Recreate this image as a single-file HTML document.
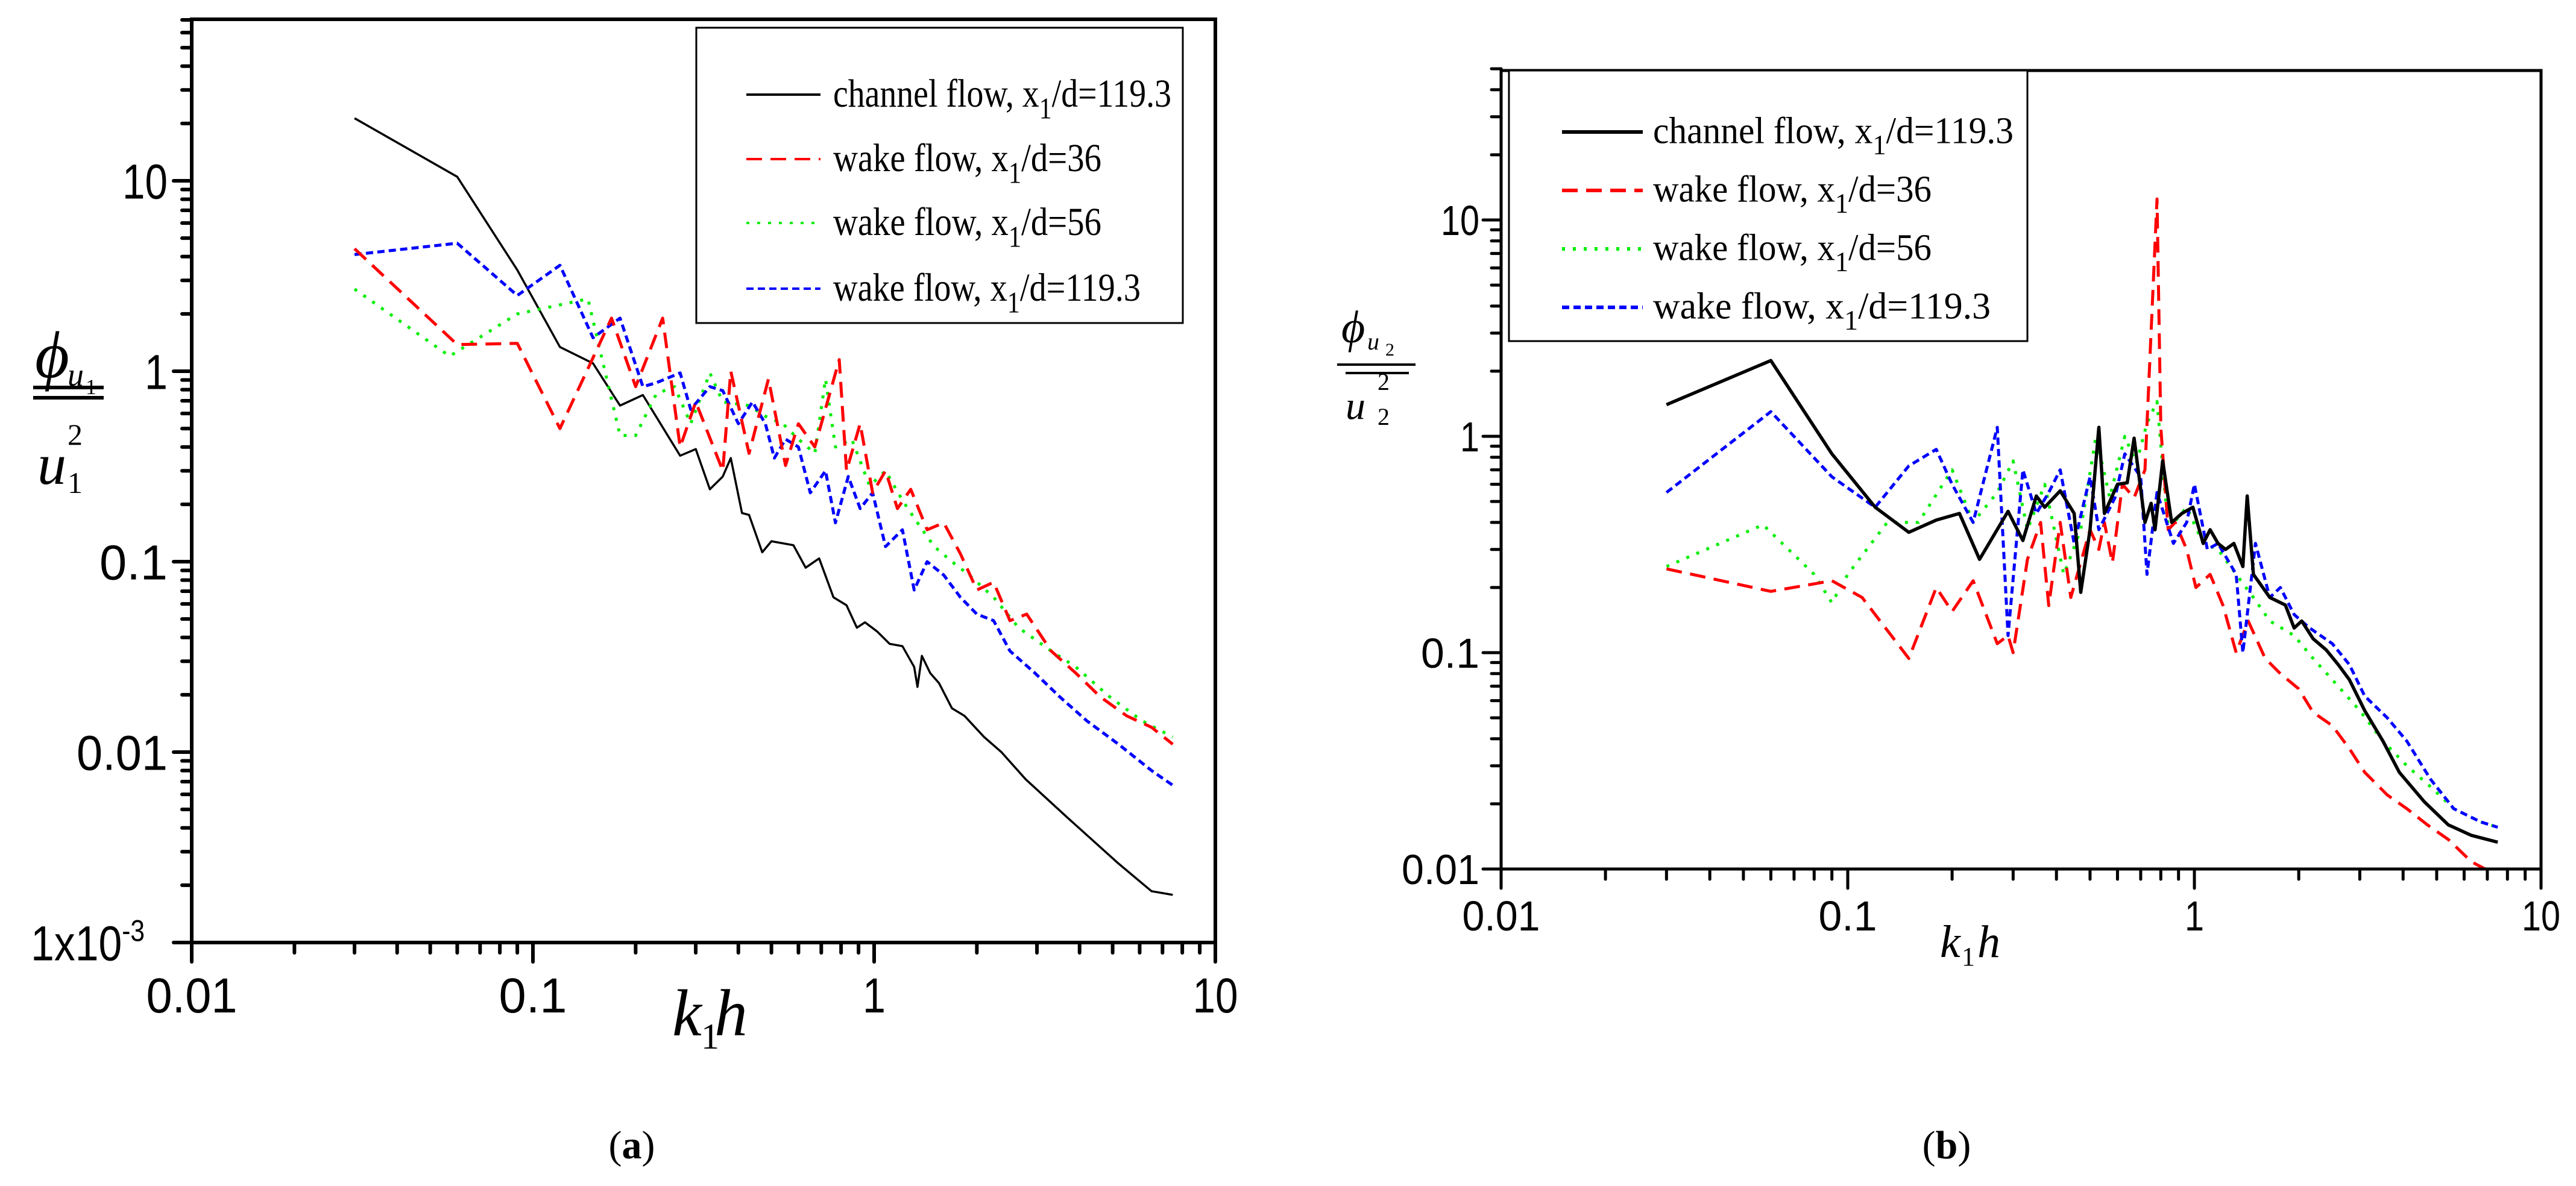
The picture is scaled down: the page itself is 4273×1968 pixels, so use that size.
<!DOCTYPE html>
<html><head><meta charset="utf-8">
<style>
html,body{margin:0;padding:0;background:#fff;}
svg{display:block;}
text{font-family:"Liberation Sans",sans-serif;}
.serif{font-family:"Liberation Serif",serif;}
</style></head>
<body>
<svg id="fig" xmlns="http://www.w3.org/2000/svg" width="4273" height="1968" viewBox="0 0 4273 1968">
  <rect x="0" y="0" width="4273" height="1968" fill="#fff"/>
  <g id="pa"></g>
  <g id="pb"></g>

  <!-- Panel a labels -->
  <g class="serif">
    <text x="58" y="626" font-size="110" font-style="italic" class="serif">ϕ</text>
    <text x="112" y="640" font-size="54" font-style="italic" class="serif">u</text>
    <text x="142" y="654" font-size="36" class="serif">1</text>
    <rect x="55" y="640" width="117" height="6" fill="#000"/>
    <rect x="55" y="657" width="117" height="6" fill="#000"/>
    <text x="62" y="803" font-size="96" font-style="italic" class="serif">u</text>
    <text x="112" y="818" font-size="50" class="serif">1</text>
    <text x="112" y="738" font-size="50" class="serif">2</text>
  </g>
  <g>
    <text x="1115" y="1718" font-size="110" font-style="italic" class="serif">k</text>
    <text x="1163" y="1740" font-size="60" class="serif">1</text>
    <text x="1185" y="1718" font-size="110" font-style="italic" class="serif">h</text>
  </g>
  <text x="1048" y="1922" font-size="66" text-anchor="middle" class="serif">(<tspan font-weight="bold">a</tspan>)</text>

  <!-- Panel b labels -->
  <g>
    <text x="2225" y="568" font-size="76" font-style="italic" class="serif">ϕ</text>
    <text x="2268" y="580" font-size="40" font-style="italic" class="serif">u</text>
    <text x="2298" y="590" font-size="30" class="serif">2</text>
    <rect x="2218" y="603" width="130" height="4" fill="#000"/>
    <rect x="2232" y="617" width="105" height="4" fill="#000"/>
    <text x="2232" y="695" font-size="66" font-style="italic" class="serif">u</text>
    <text x="2285" y="705" font-size="40" class="serif">2</text>
    <text x="2285" y="647" font-size="40" class="serif">2</text>
  </g>
  <g>
    <text x="3218" y="1588" font-size="76" font-style="italic" class="serif">k</text>
    <text x="3254" y="1602" font-size="44" class="serif">1</text>
    <text x="3280" y="1588" font-size="76" font-style="italic" class="serif">h</text>
  </g>
  <text x="3229" y="1922" font-size="66" text-anchor="middle" class="serif">(<tspan font-weight="bold">b</tspan>)</text>
</svg>
<script>
// ---------- Panel (a) data ----------
const aBlackX = [0.03,0.06,0.09,0.12,0.15,0.18,0.21,0.27,0.30,0.33,0.36,0.38,0.41,0.43,0.47,0.50,0.58,0.63,0.69,0.76,0.83,0.89,0.94,1.02,1.11,1.21,1.31,1.34,1.38,1.46,1.55,1.69,1.84,2.1,2.36,2.78,3.65,5.2,6.5,7.5];
const aBlackY = [21.3,10.5,3.4,1.34,1.1,0.66,0.75,0.36,0.39,0.24,0.28,0.35,0.18,0.176,0.112,0.128,0.122,0.093,0.104,0.065,0.059,0.045,0.048,0.043,0.037,0.036,0.028,0.022,0.032,0.026,0.023,0.017,0.0155,0.012,0.0100,0.0072,0.0046,0.0026,0.00186,0.00178];
const aRedX = [0.03,0.06,0.09,0.12,0.17,0.2,0.24,0.27,0.30,0.36,0.38,0.43,0.49,0.55,0.6,0.67,0.79,0.83,0.91,0.99,1.08,1.17,1.28,1.43,1.6,1.79,2.0,2.24,2.5,2.8,3.3,3.9,4.6,5.5,6.5,7.5];
const aRedY = [4.4,1.38,1.4,0.50,1.9,0.83,1.9,0.40,0.69,0.30,1.0,0.37,0.91,0.32,0.53,0.40,1.15,0.30,0.53,0.23,0.30,0.19,0.24,0.147,0.16,0.11,0.071,0.078,0.049,0.053,0.034,0.026,0.0195,0.0155,0.0135,0.011];
const aGreenX = [0.03,0.057,0.09,0.145,0.18,0.2,0.23,0.26,0.29,0.33,0.36,0.43,0.48,0.54,0.6,0.67,0.72,0.77,0.86,0.97,1.08,1.21,1.34,1.5,1.69,1.9,2.24,2.65,3.3,3.9,4.9,6.1,7.5];
const aGreenY = [2.7,1.2,2.0,2.4,0.46,0.46,0.76,0.83,0.53,0.98,0.69,0.66,0.58,0.53,0.44,0.37,0.91,0.40,0.44,0.25,0.30,0.21,0.16,0.12,0.10,0.085,0.065,0.045,0.034,0.028,0.0195,0.0146,0.012];
const aBlueX = [0.03,0.06,0.09,0.12,0.15,0.18,0.21,0.23,0.27,0.29,0.33,0.36,0.4,0.44,0.48,0.51,0.55,0.6,0.65,0.72,0.77,0.84,0.91,0.99,1.08,1.21,1.31,1.43,1.6,1.79,2.0,2.24,2.5,2.96,3.5,4.2,5.2,6.5,7.5];
const aBlueY = [4.1,4.7,2.5,3.6,1.5,1.9,0.83,0.87,0.98,0.63,0.83,0.79,0.53,0.69,0.53,0.35,0.44,0.40,0.23,0.30,0.16,0.28,0.19,0.23,0.12,0.147,0.071,0.10,0.085,0.065,0.053,0.049,0.034,0.026,0.0195,0.0146,0.011,0.008,0.0067];
const aYTicks = [10,1,0.1,0.01,0.001];
const aYTickLabels = ["10","1","0.1","0.01","1x10"];
const xTicks = [0.01,0.1,1,10];
const xTickLabels = ["0.01","0.1","1","10"];

// ---------- Panel (b) data ----------
const bBlackX = [0.03,0.06,0.09,0.12,0.15,0.18,0.21,0.24,0.29,0.32,0.35,0.37,0.41,0.45,0.47,0.5,0.53,0.55,0.6,0.64,0.67,0.72,0.75,0.77,0.81,0.86,0.92,0.99,1.06,1.11,1.17,1.23,1.3,1.38,1.42,1.48,1.65,1.83,1.94,2.04,2.2,2.4,2.6,2.8,3.1,3.5,3.9,4.6,5.4,6.3,7.5];
const bBlackY = [1.4,2.24,0.83,0.47,0.36,0.41,0.44,0.27,0.45,0.33,0.53,0.47,0.56,0.44,0.19,0.37,1.1,0.44,0.6,0.61,0.98,0.40,0.49,0.37,0.77,0.40,0.44,0.47,0.32,0.37,0.32,0.30,0.32,0.25,0.53,0.23,0.18,0.166,0.13,0.14,0.116,0.103,0.088,0.075,0.054,0.039,0.028,0.0205,0.016,0.0143,0.0133];
const bRedX = [0.03,0.06,0.09,0.11,0.15,0.18,0.2,0.23,0.27,0.29,0.3,0.33,0.36,0.38,0.41,0.44,0.5,0.53,0.55,0.58,0.62,0.67,0.72,0.78,0.8,0.84,0.88,0.95,1.01,1.11,1.21,1.32,1.43,1.6,1.77,2.0,2.2,2.5,2.8,3.1,3.6,4.1,4.7,5.4,6.3,6.9];
const bRedY = [0.244,0.192,0.215,0.18,0.094,0.2,0.155,0.215,0.11,0.12,0.1,0.27,0.4,0.165,0.4,0.18,0.37,0.3,0.4,0.26,0.6,0.52,0.7,12.5,1.1,0.37,0.4,0.3,0.2,0.23,0.165,0.1,0.14,0.094,0.08,0.068,0.053,0.046,0.036,0.028,0.022,0.019,0.016,0.0137,0.0108,0.01];
const bGreenX = [0.03,0.057,0.08,0.09,0.1,0.13,0.16,0.2,0.23,0.27,0.3,0.33,0.37,0.42,0.47,0.52,0.57,0.63,0.68,0.73,0.78,0.84,0.95,1.06,1.17,1.32,1.48,1.65,1.94,2.2,2.5,3.0,3.5,4.1,4.8,5.6,6.7,7.5];
const bGreenY = [0.25,0.39,0.23,0.17,0.23,0.4,0.4,0.7,0.4,0.55,0.77,0.37,0.6,0.23,0.37,1.0,0.52,1.0,0.75,1.15,1.45,0.37,0.47,0.32,0.3,0.23,0.18,0.14,0.12,0.094,0.075,0.054,0.039,0.03,0.024,0.019,0.0165,0.0156];
const bBlueX = [0.03,0.06,0.09,0.12,0.15,0.18,0.2,0.23,0.27,0.29,0.32,0.35,0.38,0.41,0.45,0.5,0.53,0.59,0.63,0.7,0.73,0.78,0.87,0.95,1.0,1.09,1.17,1.32,1.38,1.5,1.65,1.77,1.94,2.15,2.5,2.8,3.1,3.6,4.1,4.8,5.6,6.7,7.5];
const bBlueY = [0.55,1.3,0.65,0.47,0.73,0.87,0.6,0.4,1.1,0.12,0.7,0.44,0.55,0.7,0.32,0.65,0.37,0.52,0.83,0.65,0.23,0.55,0.32,0.4,0.6,0.3,0.32,0.23,0.1,0.32,0.18,0.2,0.15,0.13,0.11,0.088,0.063,0.05,0.039,0.026,0.019,0.0165,0.0156];
const bYTicks = [10,1,0.1,0.01];
const bYTickLabels = ["10","1","0.1","0.01"];
const legendLabels = ["channel flow, x","wake flow, x","wake flow, x","wake flow, x"];
const legendSuffix = ["/d=119.3","/d=36","/d=56","/d=119.3"];

const NS = "http://www.w3.org/2000/svg";
function mk(tag, attrs, parent){
  const e = document.createElementNS(NS, tag);
  for (const k in attrs) e.setAttribute(k, attrs[k]);
  parent.appendChild(e);
  return e;
}
function makeAxes(cfg){
  const L = Math.log10;
  cfg.X = v => cfg.x0 + cfg.dx * (L(v) + 2);
  cfg.Y = v => cfg.y10 - cfg.dy * (L(v) - 1);
  return cfg;
}
const A = makeAxes({x0:318, dx:566, y10:300, dy:316, left:318, right:2016, top:32, bottom:1564, ymin:0.001, ymax:70, lw:6, fs:82});
const B = makeAxes({x0:2490, dx:575, y10:365, dy:359, left:2490, right:4215, top:117, bottom:1442, ymin:0.01, ymax:50, lw:5, fs:70});

function drawFrame(ax, g, yTicks, yLabels, panel){
  const frame = mk('rect',{x:ax.left,y:ax.top,width:ax.right-ax.left,height:ax.bottom-ax.top,fill:'none',stroke:'#000','stroke-width':ax.lw},g);
  
  
  for (let d=-2; d<1; d++){
    for (let m=1; m<10; m++){
      const v = m*Math.pow(10,d);
      const x = ax.X(v);
      const len = m===1 ? 32 : 17;
      const t = mk('line',{x1:x,y1:ax.bottom,x2:x,y2:ax.bottom+len,stroke:'#000','stroke-width':ax.lw,'stroke-linecap':'round'},g);
      
      
    }
  }
  const xt = mk('line',{x1:ax.X(10),y1:ax.bottom,x2:ax.X(10),y2:ax.bottom+32,stroke:'#000','stroke-width':ax.lw,'stroke-linecap':'round'},g);
  
  
  const cw = ax.fs*0.46;
  xTicks.forEach((v,i)=>{
    const t = mk('text',{x:ax.X(v),y:ax.bottom+ (panel==='a'?116:102),'font-size':ax.fs,'text-anchor':'middle',textLength:(xTickLabels[i].length*cw).toFixed(0),lengthAdjust:'spacingAndGlyphs'},g);
    t.textContent = xTickLabels[i];
    
    
  });
  for (let d=-3; d<2; d++){
    for (let m=1; m<10; m++){
      const v = m*Math.pow(10,d);
      if (v < ax.ymin*0.999 || v > ax.ymax*1.001) continue;
      const y = ax.Y(v);
      const len = m===1 ? 30 : 16;
      const t = mk('line',{x1:ax.left,y1:y,x2:ax.left-len,y2:y,stroke:'#000','stroke-width':ax.lw,'stroke-linecap':'round'},g);
      
      
    }
  }
  yTicks.forEach((v,i)=>{
    const t = mk('text',{x:ax.left-(panel==='a'?40:36),y:ax.Y(v)+ax.fs*0.36,'font-size':ax.fs,'text-anchor':'end'},g);
    t.textContent = yLabels[i];
    if (yLabels[i]==='1x10'){
      t.setAttribute('x', ax.left-78);
      const s = mk('tspan',{'font-size':50,dy:-32},t);
      s.textContent = '-3';
      t.setAttribute('transform', 'translate('+(ax.left-78)+',0) scale(0.85,1) translate('+(-(ax.left-78))+',0)');
    } else {
      t.setAttribute('textLength', (yLabels[i].length*cw).toFixed(0));
      t.setAttribute('lengthAdjust', 'spacingAndGlyphs');
    }
    
    
  });
}

const styles = [
  {c:'#000', dash:'none', name:'channel-flow-119-3'},
  {c:'#ff0000', dash:'26,14', name:'wake-flow-36'},
  {c:'#00ee00', dash:'5,13', name:'wake-flow-56'},
  {c:'#0000ff', dash:'12,7', name:'wake-flow-119-3'}
];

function drawSeries(ax, g, xs, ys, k, w, panel){
  const pts = xs.map((x,i)=> ax.X(x).toFixed(1)+','+ax.Y(ys[i]).toFixed(1)).join(' ');
  const p = mk('polyline',{points:pts,fill:'none',stroke:styles[k].c,'stroke-width':w,'stroke-dasharray':styles[k].dash,'stroke-linejoin':'round'},g);
  
  
}

function drawLegend(g, box, rows, sx1, sx2, tx, fs, tlen, w, panel){
  const r = mk('rect',{x:box[0],y:box[1],width:box[2],height:box[3],fill:'#fff',stroke:'#000','stroke-width':3},g);
  
  
  rows.forEach((y,k)=>{
    const eg = mk('g',{},g);
    
    
    mk('line',{x1:sx1,y1:y,x2:sx2,y2:y,stroke:styles[k].c,'stroke-width':w,'stroke-dasharray':styles[k].dash},eg);
    const t = mk('text',{x:tx,y:y+fs*0.3,'font-size':fs,'class':'serif',textLength:tlen[k],lengthAdjust:'spacingAndGlyphs'},eg);
    t.style.fontFamily = '"Liberation Serif", serif';
    const a = mk('tspan',{},t); a.textContent = legendLabels[k];
    const b = mk('tspan',{dy:fs*0.3,'font-size':fs*0.75},t); b.textContent = '1';
    const c = mk('tspan',{dy:-fs*0.3},t); c.textContent = legendSuffix[k];
  });
}

const ga = document.getElementById('pa');
const gb = document.getElementById('pb');

drawSeries(A, ga, aBlackX, aBlackY, 0, 3.5, 'a');
drawSeries(A, ga, aGreenX, aGreenY, 2, 5, 'a');
drawSeries(A, ga, aBlueX, aBlueY, 3, 5, 'a');
drawSeries(A, ga, aRedX, aRedY, 1, 5, 'a');
drawFrame(A, ga, aYTicks, aYTickLabels, 'a');
drawLegend(ga, [1155,46,807,490], [157,264,370,479], 1238, 1361, 1382, 66, [561,445,445,510], 4, 'a');

drawSeries(B, gb, bGreenX, bGreenY, 2, 5, 'b');
drawSeries(B, gb, bRedX, bRedY, 1, 5, 'b');
drawSeries(B, gb, bBlueX, bBlueY, 3, 5, 'b');
drawSeries(B, gb, bBlackX, bBlackY, 0, 5.5, 'b');
drawFrame(B, gb, bYTicks, bYTickLabels, 'b');
drawLegend(gb, [2503,117,860,449], [219,316,413,510], 2591, 2725, 2742, 62, [598,462,462,560], 6, 'b');
</script>
</body></html>
